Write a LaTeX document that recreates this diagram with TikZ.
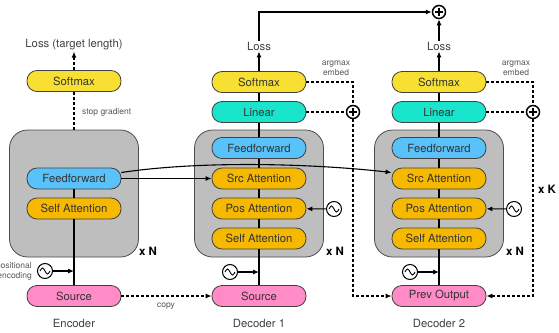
\documentclass[tikz,border=0pt]{standalone}
\usepackage{fontspec}
\setmainfont{TeX Gyre Heros}
\usepackage{tikz}
\usetikzlibrary{arrows,arrows.meta,shapes,calc}
\definecolor{boxgrey}{RGB}{190,190,190}
\definecolor{ffblue}{RGB}{90,194,250}
\definecolor{attn}{RGB}{246,185,0}
\definecolor{soft}{RGB}{248,224,50}
\definecolor{lin}{RGB}{24,229,204}
\definecolor{srcpink}{RGB}{255,140,198}
\tikzstyle{pill}=[draw=black!75, line width=0.8pt, rounded corners=10pt, minimum width=94pt, minimum height=21pt, inner sep=0pt, font=\fontsize{11.3}{13}\selectfont, text=black!80]
\tikzstyle{stack}=[draw=black!70, fill=boxgrey, line width=0.8pt, rounded corners=18pt, minimum width=129pt, minimum height=127pt]
\tikzstyle{wire}=[line width=1.1pt, black, >={Latex[length=6pt,width=5pt]}]
\tikzstyle{dots}=[line width=1.4pt, dash pattern=on 3pt off 2pt, >={Latex[length=6pt,width=5pt]}]
\tikzstyle{caption}=[font=\fontsize{11.3}{13}\selectfont, text=black!75, inner sep=1pt]
\tikzstyle{tiny}=[font=\fontsize{8.5}{10}\selectfont, text=black!65, inner sep=1pt]
\tikzstyle{times}=[font=\bfseries\fontsize{11.5}{13}\selectfont]
\tikzstyle{oplus}=[circle, draw, line width=1.5pt, minimum size=13pt, inner sep=0pt,
	path picture={\draw[line width=1.5pt] ([xshift=-4pt]path picture bounding box.center) -- ([xshift=4pt]path picture bounding box.center)
		([yshift=-4pt]path picture bounding box.center) -- ([yshift=4pt]path picture bounding box.center);}]
\tikzstyle{wave}=[circle, draw, line width=1pt, minimum size=15pt, inner sep=0pt,
	path picture={\draw[line width=0.9pt] ([xshift=-5pt]path picture bounding box.center) sin ([xshift=-2.5pt,yshift=3pt]path picture bounding box.center)
		cos (path picture bounding box.center) sin ([xshift=2.5pt,yshift=-3pt]path picture bounding box.center) cos ([xshift=5pt]path picture bounding box.center);}]
% #1 x, #2 name, #3 input, #4 caption
\newcommand{\decoder}[4]{
	\node[stack] (box#2) at (#1,193.5) {};
	\node[pill, fill=ffblue] (ff#2) at (#1,148) {Feedforward};
	\node[pill, fill=attn] (src#2) at (#1,178.5) {Src Attention};
	\node[pill, fill=attn] (pos#2) at (#1,208.5) {Pos Attention};
	\node[pill, fill=attn] (self#2) at (#1,238.5) {Self Attention};
	\node[pill, fill=lin] (lin#2) at (#1,112) {Linear};
	\node[pill, fill=soft] (soft#2) at (#1,82) {Softmax};
	\node[caption] (loss#2) at (#1,46) {Loss};
	\node[pill, fill=srcpink] (in#2) at (#1,296) {#3};
	\node[caption] (name#2) at (#1,323) {#4};
	\node[wave] (wb#2) at (#1-29,272) {};
	\node[wave] (wr#2) at (#1+75,209) {};
	\node[times] (xn#2) at (#1+76,251) {x N};
	\node[oplus] (plus#2) at (#1+94,112) {};
	\node[tiny, align=center] (am#2) at (#1+77,68) {argmax\\embed};
%
	\draw[wire] (in#2) -- (self#2);
	\draw[wire] (self#2) -- (pos#2);
	\draw[wire] (pos#2) -- (src#2);
	\draw[wire] (src#2) -- (ff#2);
	\draw[wire] (ff#2) -- (lin#2);
	\draw[wire] (lin#2) -- (soft#2);
	\draw[wire,->] (soft#2) -- (loss#2);
	\draw[wire,->] (wb#2) -- (wb#2 -| in#2);
	\draw[wire,->] (wr#2) -- (pos#2);
	\draw[dots] (soft#2.east) -| (plus#2);
	\draw[dots] (lin#2) -- (plus#2);
}

\begin{document}
\begin{tikzpicture}[x=1pt, y=-1pt]
	\useasboundingbox (0,0) rectangle (559,332);
%
	\node[stack] (boxE) at (74,193.5) {};
	\node[pill, fill=ffblue] (ffE) at (74,178.5) {Feedforward};
	\node[pill, fill=attn] (selfE) at (74,208.5) {Self Attention};
	\node[pill, fill=soft] (softE) at (74,81) {Softmax};
	\node[caption] (lossE) at (74,45) {Loss (target length)};
	\node[pill, fill=srcpink] (inE) at (74,296) {Source};
	\node[caption] (nameE) at (74,323) {Encoder};
	\node[wave] (wbE) at (45,271) {};
	\node[tiny, anchor=east, align=right] (pe) at (33,271) {positional\\encoding};
	\node[times] (xnE) at (148,251) {x N};
	\node[tiny, anchor=west] (sg) at (81,112) {stop gradient};
	\node[tiny] (cp) at (166,306) {copy};
	\draw[wire] (inE) -- (selfE);
	\draw[wire] (selfE) -- (ffE);
	\draw[wire,->] (wbE) -- (wbE -| inE);
	\draw[dots] (boxE.north) -- (softE);
	\draw[dots,->] (softE) -- (lossE);
%
	\decoder{259}{1}{Source}{Decoder 1}
	\decoder{439}{2}{Prev Output}{Decoder 2}
%
	\node[oplus] (plustop) at (439,12) {};
	\node[times] (xk) at (547,189) {x K};
	\draw[wire,->] (loss1) |- (plustop);
	\draw[wire,->] (loss2) -- (plustop);
	\draw[dots,->] (inE) -- (in1);
	\draw[dots,->] (plus1) |- (in2.west);
	\draw[dots,->] (plus2) |- (in2.east);
	\draw[wire,->] (ffE) -- (src1);
	\draw[wire,->] ([yshift=6pt]ffE.east) .. controls +(80,-12) and +(-80,-9) .. ([yshift=6pt]src2.west);
\end{tikzpicture}
\end{document}
